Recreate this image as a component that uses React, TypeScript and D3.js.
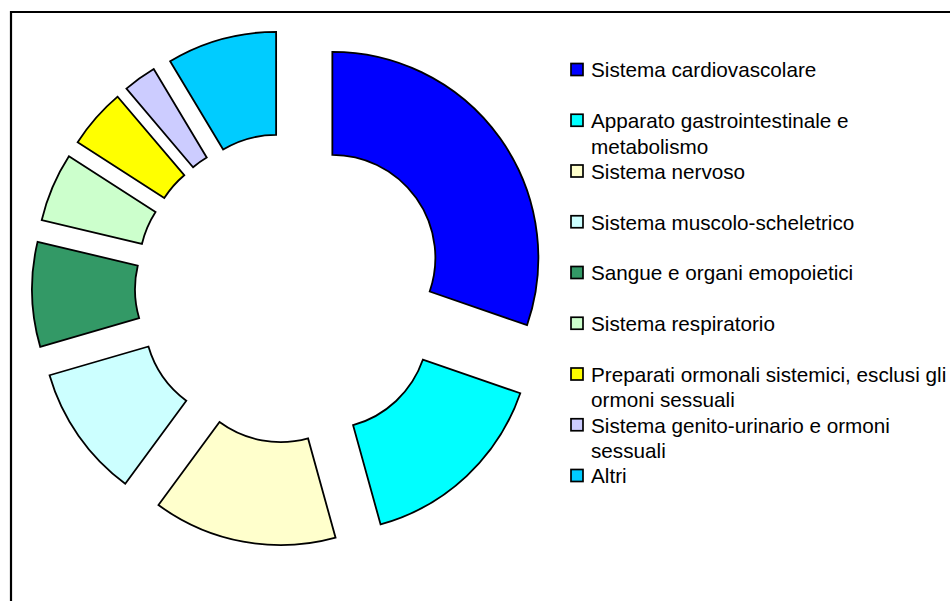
import React from 'react';
import * as d3 from 'd3';

const categories = [
    'Sistema cardiovascolare',
    'Apparato gastrointestinale e\nmetabolismo',
    'Sistema nervoso',
    'Sistema muscolo-scheletrico',
    'Sangue e organi emopoietici',
    'Sistema respiratorio',
    'Preparati ormonali sistemici, esclusi gli\normoni sessuali',
    'Sistema genito-urinario e ormoni\nsessuali',
    'Altri',
];
const shares = [30.3, 15.4, 14.4, 10.4, 8.2, 5.4, 4.7, 2.6, 8.6];
const colors = ['#0000FF', '#00FFFF', '#FFFFCC', '#CCFFFF', '#339966', '#CCFFCC', '#FFFF00', '#CCCCFF', '#00CCFF'];

const width = 950;
const height = 601;
const cx = 290;
const cy = 288;
const outerR = 206;
const innerR = 103;
const explode = 52;

function Donut() {
    const pie = d3.pie<number>().sort(null).value(d => d);
    const arcs = pie(shares);
    const arc = d3.arc<d3.PieArcDatum<number>>().innerRadius(innerR).outerRadius(outerR);
    const color = d3.scaleOrdinal<number, string>().domain(d3.range(shares.length)).range(colors);
    return (
        <g transform={`translate(${cx}, ${cy})`}>
            {arcs.map((a, i) => {
                const mid = (a.startAngle + a.endAngle) / 2;
                const dx = Math.sin(mid) * explode;
                const dy = -Math.cos(mid) * explode;
                return (
                    <path key={i} d={arc(a) || ''} transform={`translate(${dx}, ${dy})`}
                        fill={color(i)} stroke="black" strokeWidth={1.8} strokeLinejoin="miter" />
                );
            })}
        </g>
    );
}

function Legend() {
    const step = 50.75;
    const lineH = 25.5;
    const color = d3.scaleOrdinal<number, string>().domain(d3.range(categories.length)).range(colors);
    return (
        <g transform="translate(571, 70)" fontFamily="'Liberation Sans', Arial, sans-serif" fontSize={20.7} fill="black">
            {categories.map((c, i) => (
                <g key={i} transform={`translate(0, ${i * step})`}>
                    <rect x={0} y={-6.5} width={12} height={12} fill={color(i)} stroke="black" strokeWidth={1.7} />
                    <text>
                        {c.split('\n').map((line, j) => (
                            <tspan key={j} x={20} y={j * lineH} dy="0.36em">{line}</tspan>
                        ))}
                    </text>
                </g>
            ))}
        </g>
    );
}

export default function App() {
    return (
        <svg width={width} height={height} style={{position: 'absolute', left: 0, top: 0, background: 'white'}}>
            <rect x={0} y={0} width={width} height={height} fill="white" />
            <path d={`M11,${height + 5} L11,12 L${width + 5},12`} fill="none" stroke="black" strokeWidth={2.2} />
            <Donut />
            <Legend />
        </svg>
    );
}
